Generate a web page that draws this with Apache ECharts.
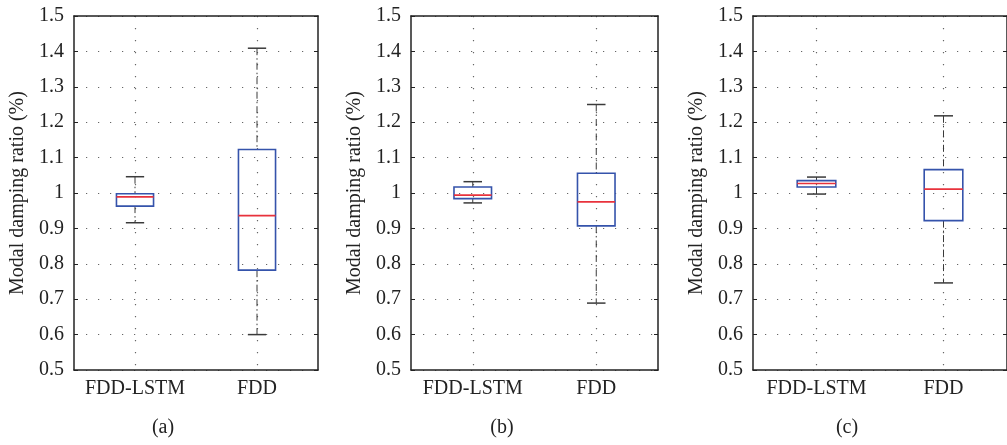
<!DOCTYPE html>
<html>
<head>
<meta charset="utf-8">
<script src="https://cdn.jsdelivr.net/npm/echarts@6/dist/echarts.min.js"></script>
<style>
  html, body { margin: 0; padding: 0; background: #fff; }
  #chart { width: 1007px; height: 445px; }
</style>
</head>
<body>
<div id="chart"></div>
<script>
// box stats: [lower whisker, Q1, median, Q3, upper whisker]
const categories = ['FDD-LSTM', 'FDD'];
const panelLabels = ['(a)', '(b)', '(c)'];
const yName = 'Modal damping ratio (%)';
const yMin = 0.5, yMax = 1.5, yStep = 0.1;

const statsA_lstm = [0.916, 0.963, 0.989, 0.998, 1.046];
const statsA_fdd  = [0.600, 0.782, 0.936, 1.123, 1.409];
const statsB_lstm = [0.972, 0.984, 0.994, 1.017, 1.032];
const statsB_fdd  = [0.689, 0.907, 0.975, 1.056, 1.250];
const statsC_lstm = [0.997, 1.017, 1.027, 1.035, 1.045];
const statsC_fdd  = [0.746, 0.922, 1.011, 1.066, 1.218];

const panels = [
  { lstm: statsA_lstm, fdd: statsA_fdd },
  { lstm: statsB_lstm, fdd: statsB_fdd },
  { lstm: statsC_lstm, fdd: statsC_fdd }
];

const font = 'Liberation Serif';
const ink = '#222';
const grids = [
  { left: 74, top: 16, width: 244, height: 354 },
  { left: 411, top: 16, width: 247, height: 354 },
  { left: 753, top: 16, width: 255, height: 354 }
];
const labelX = [163, 502, 847];

function renderBox(params, api) {
  let c = api.value(0);
  let lo = api.coord([c, api.value(1)]);
  let q1 = api.coord([c, api.value(2)]);
  let md = api.coord([c, api.value(3)]);
  let q3 = api.coord([c, api.value(4)]);
  let hi = api.coord([c, api.value(5)]);
  let band = api.size([1, 0])[0];
  let hw = band * 0.152, cw = band * 0.075;
  let x = lo[0];
  let whisk = { stroke: '#3a3a3a', lineWidth: 1, lineDash: [7, 3, 1.5, 3] };
  let cap = { stroke: '#3a3a3a', lineWidth: 1.5 };
  return {
    type: 'group',
    children: [
      { type: 'line', shape: { x1: x, y1: hi[1], x2: x, y2: q3[1] }, style: whisk },
      { type: 'line', shape: { x1: x, y1: q1[1], x2: x, y2: lo[1] }, style: whisk },
      { type: 'line', shape: { x1: x - cw, y1: hi[1], x2: x + cw, y2: hi[1] }, style: cap },
      { type: 'line', shape: { x1: x - cw, y1: lo[1], x2: x + cw, y2: lo[1] }, style: cap },
      { type: 'rect', shape: { x: x - hw, y: q3[1], width: hw * 2, height: q1[1] - q3[1] },
        style: { fill: 'none', stroke: '#3553ab', lineWidth: 1.6 } },
      { type: 'line', shape: { x1: x - hw, y1: md[1], x2: x + hw, y2: md[1] },
        style: { stroke: '#e8323c', lineWidth: 1.6 } }
    ]
  };
}

let xAxes = [], yAxes = [], series = [], graphics = [];
const dots = { color: '#666', width: 1.2, type: [1.2, 10.8] };

panels.forEach(function (p, i) {
  xAxes.push({
    type: 'category', gridIndex: i, data: categories, position: 'bottom',
    axisLine: { lineStyle: { color: ink, width: 1.5 } },
    axisTick: { inside: true, alignWithLabel: true, length: 4, lineStyle: { color: ink } },
    axisLabel: { interval: 0, color: ink, fontFamily: font, fontSize: 20, margin: 9 },
    splitLine: { show: true, alignWithLabel: true, lineStyle: dots }
  });
  xAxes.push({
    type: 'category', gridIndex: i, data: categories, position: 'top',
    axisLine: { lineStyle: { color: ink, width: 1.5 } },
    axisTick: { inside: true, alignWithLabel: true, length: 4, lineStyle: { color: ink } },
    axisLabel: { show: false }, splitLine: { show: false }
  });
  yAxes.push({
    type: 'value', gridIndex: i, min: yMin, max: yMax, interval: yStep, position: 'left',
    name: yName, nameLocation: 'middle', nameGap: 46,
    nameTextStyle: { color: ink, fontFamily: font, fontSize: 20 },
    axisLine: { show: true, lineStyle: { color: ink, width: 1.5 } },
    axisTick: { show: true, inside: true, length: 4, lineStyle: { color: ink } },
    axisLabel: { color: ink, fontFamily: font, fontSize: 20, margin: 10 },
    splitLine: { show: true, lineStyle: dots }
  });
  yAxes.push({
    type: 'value', gridIndex: i, min: yMin, max: yMax, interval: yStep, position: 'right',
    axisLine: { show: true, lineStyle: { color: ink, width: 1.5 } },
    axisTick: { show: true, inside: true, length: 4, lineStyle: { color: ink } },
    axisLabel: { show: false }, splitLine: { show: false }
  });
  series.push({
    type: 'custom', xAxisIndex: i * 2, yAxisIndex: i * 2, renderItem: renderBox,
    encode: { x: 0, y: [1, 2, 3, 4, 5] },
    data: [[0].concat(p.lstm), [1].concat(p.fdd)],
    silent: true, z: 5
  });
  graphics.push({
    type: 'text', x: labelX[i], y: 428,
    style: { text: panelLabels[i], fill: ink, font: '20px "' + font + '"',
      textAlign: 'center', textVerticalAlign: 'middle' }
  });
});

let chart = echarts.init(document.getElementById('chart'));
chart.setOption({
  backgroundColor: '#fff',
  animation: false,
  grid: grids,
  xAxis: xAxes,
  yAxis: yAxes,
  series: series,
  graphic: graphics
});
</script>
</body>
</html>
